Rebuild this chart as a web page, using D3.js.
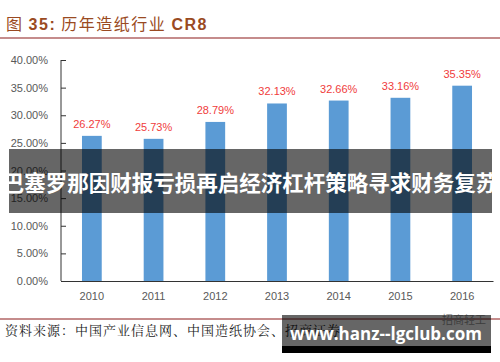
<!DOCTYPE html>
<html>
<head>
<meta charset="utf-8">
<script src="https://cdn.jsdelivr.net/npm/d3@7"></script>
<style>
  body { margin: 0; background: #fff; }
  svg { display: block; font-family: "Liberation Sans", "Noto Sans CJK SC", sans-serif; }
</style>
</head>
<body>
<svg id="chart" width="500" height="362"></svg>
<script>
// data
var years = ['2010', '2011', '2012', '2013', '2014', '2015', '2016'];
var cr8 = [26.27, 25.73, 28.79, 32.13, 32.66, 33.16, 35.35];
var yTicks = [0, 5, 10, 15, 20, 25, 30, 35, 40];

var svg = d3.select('#chart');
var margin = {top: 60, left: 61, right: 7, bottom: 81};
var W = 500, H = 362;

// title
var title = svg.append('text')
  .attr('x', 6).attr('y', 30)
  .attr('fill', '#9a4a22')
  .style('font-size', '16px')
  .style('letter-spacing', '1.5px')
  .style('font-family', '"Noto Sans CJK SC", sans-serif');
title.append('tspan').text('图 ');
title.append('tspan').attr('font-weight', 'bold').attr('font-family', 'Liberation Sans').text('35:');
title.append('tspan').text(' 历年造纸行业 ');
title.append('tspan').attr('font-weight', 'bold').attr('font-family', 'Liberation Sans').text('CR8');

svg.append('line').attr('x1', 0).attr('x2', W).attr('y1', 38).attr('y2', 38)
  .attr('stroke', '#8b1a1a').attr('stroke-width', 1.2);

var x = d3.scaleBand().domain(years).range([margin.left, W - margin.right]).paddingInner(0.68).paddingOuter(0.34);
var y = d3.scaleLinear().domain([0, 40]).range([H - margin.bottom, margin.top]);

// y axis
var yAxis = svg.append('g')
  .attr('transform', 'translate(' + margin.left + ',0)')
  .call(d3.axisRight(y).tickValues(yTicks).tickSize(5).tickFormat(function(d) { return d.toFixed(2) + '%'; }));
yAxis.select('.domain').attr('stroke', '#333').attr('d', 'M0,' + y(40) + 'V' + y(0));
yAxis.selectAll('.tick line').attr('stroke', '#333');
yAxis.selectAll('.tick text')
  .attr('x', -13).attr('text-anchor', 'end')
  .attr('fill', '#595959').style('font-size', '11px');

// bars
svg.selectAll('.bar').data(cr8).enter().append('rect')
  .attr('class', 'bar')
  .attr('x', function(d, i) { return x(years[i]); })
  .attr('width', x.bandwidth())
  .attr('y', function(d) { return y(d); })
  .attr('height', function(d) { return y(0) - y(d); })
  .attr('fill', '#5b9bd5');

svg.selectAll('.lbl').data(cr8).enter().append('text')
  .attr('class', 'lbl')
  .attr('x', function(d, i) { return x(years[i]) + x.bandwidth() / 2; })
  .attr('y', function(d) { return y(d) - 8; })
  .attr('text-anchor', 'middle')
  .attr('fill', '#f03c3c')
  .style('font-size', '11px')
  .text(function(d) { return d.toFixed(2) + '%'; });

// x axis
var xAxis = svg.append('g')
  .attr('transform', 'translate(0,' + y(0) + ')')
  .call(d3.axisBottom(x).tickSize(0).tickPadding(11));
xAxis.select('.domain').attr('stroke', '#333');
xAxis.selectAll('.tick text').attr('fill', '#595959').style('font-size', '11px');

// source
svg.append('line').attr('x1', 0).attr('x2', W).attr('y1', 319).attr('y2', 319)
  .attr('stroke', '#8b1a1a').attr('stroke-width', 1.2);
svg.append('text').attr('x', 5).attr('y', 335)
  .attr('fill', '#222').style('font-size', '13px')
  .style('letter-spacing', '1px')
  .style('font-family', '"Noto Serif CJK SC", "Noto Sans CJK SC", serif')
  .text('资料来源：中国产业信息网、中国造纸协会、招商证券');

// overlay banner
svg.append('rect').attr('x', 9).attr('y', 149).attr('width', 483).attr('height', 64)
  .attr('fill', 'rgba(0,0,0,0.6)');
svg.append('text').attr('x', 250).attr('y', 191)
  .attr('text-anchor', 'middle').attr('fill', '#fff')
  .attr('font-weight', 'bold')
  .style('font-size', '21.5px')
  .style('font-family', '"Noto Sans CJK SC", sans-serif')
  .text('巴塞罗那因财报亏损再启经济杠杆策略寻求财务复苏');

// watermark
svg.append('text').attr('x', 486).attr('y', 324).attr('text-anchor', 'end')
  .attr('fill', '#999').style('font-size', '11px')
  .style('font-family', '"Noto Sans CJK SC", sans-serif')
  .text('招商轻工');
svg.append('rect').attr('x', 282).attr('y', 315).attr('width', 209).attr('height', 31)
  .attr('fill', 'rgba(0,0,0,0.6)');
svg.append('rect').attr('x', 282).attr('y', 346).attr('width', 209).attr('height', 7)
  .attr('fill', '#000');
svg.append('text').attr('x', 386).attr('y', 340)
  .attr('text-anchor', 'middle').attr('fill', '#fff')
  .attr('font-weight', 'bold').style('font-size', '17px')
  .style('font-family', '"Open Sans", sans-serif')
  .text('www.hanz--lgclub.com');
</script>
</body>
</html>
